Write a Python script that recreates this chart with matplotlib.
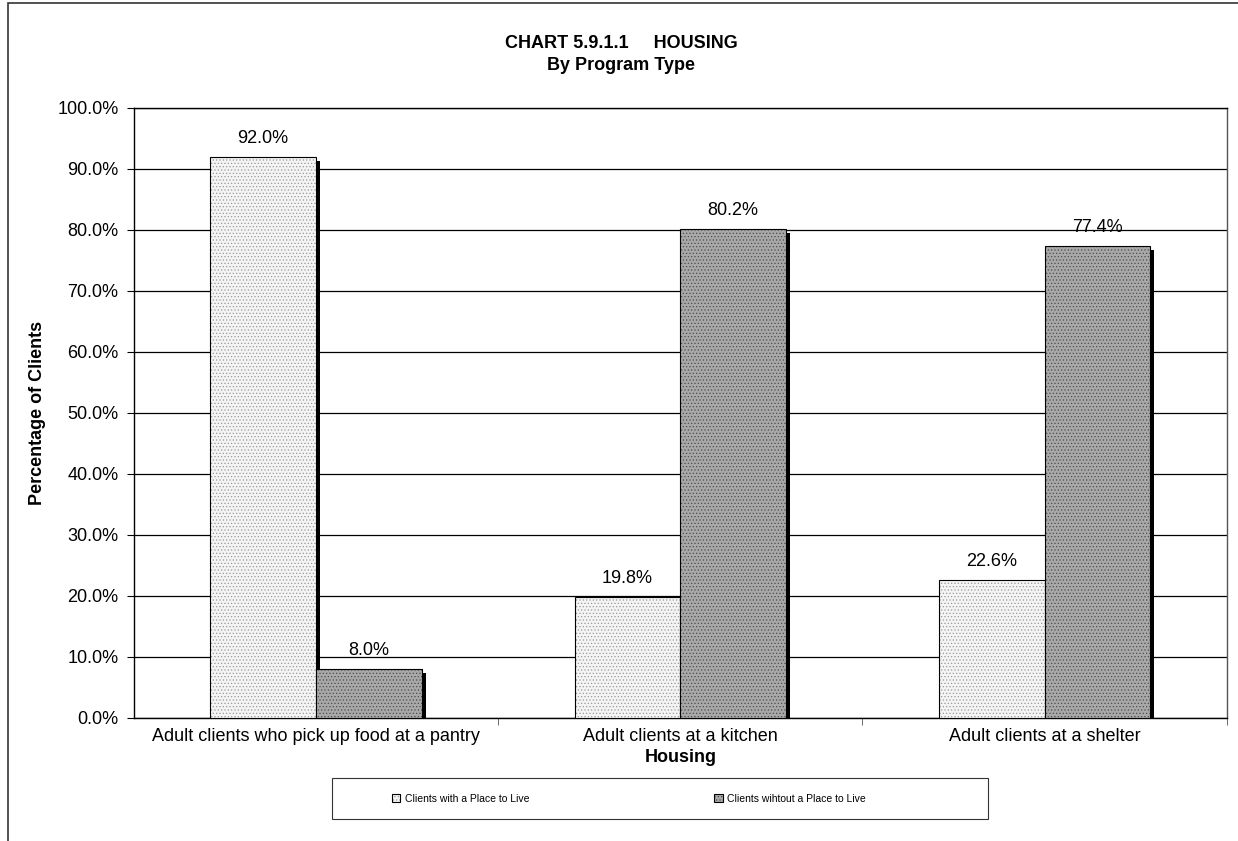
import matplotlib.pyplot as plt
import matplotlib.transforms as mtransforms
import numpy as np
from matplotlib.patches import Rectangle

categories = ['Adult clients who pick up food at a pantry', 'Adult clients at a kitchen', 'Adult clients at a shelter']
with_place = [92.0, 19.8, 22.6]
without_place = [8.0, 80.2, 77.4]
series_names = ['Clients with a Place to Live', 'Clients wihtout a Place to Live']

plt.rcParams['font.family'] = ['Liberation Sans', 'DejaVu Sans']
plt.rcParams['hatch.linewidth'] = 0.5

fig = plt.figure(figsize=(12.38, 8.41), dpi=100)
ax = fig.add_axes([0.108, 0.1463, 0.883, 0.7253])

# figure frame (only left/top visible in the reference)
fig.patches.append(Rectangle((8 / 1238, -0.1), 1.2, 1.1 - 3 / 841, transform=fig.transFigure,
                             fill=False, edgecolor='#333333', linewidth=1.2))

x = np.arange(len(categories))
w = 0.29

b1 = ax.bar(x - w / 2, with_place, w, color='#f4f4f4', edgecolor='black', linewidth=0.8,
            hatch='.....', label=series_names[0], zorder=3)
b2 = ax.bar(x + w / 2, without_place, w, color='#a8a8a8', edgecolor='black', linewidth=0.8,
            hatch='.....', label=series_names[1], zorder=3)
for b in b1:
    b._hatch_color = (0.6, 0.6, 0.6, 1.0)
for b in b2:
    b._hatch_color = (0.3, 0.3, 0.3, 1.0)

# black drop shadow behind each bar
shift = ax.transData + mtransforms.ScaledTranslation(4 / 100, -4 / 100, fig.dpi_scale_trans)
for b in list(b1) + list(b2):
    ax.add_patch(Rectangle((b.get_x(), 0), b.get_width(), b.get_height(), facecolor='black',
                           edgecolor='none', transform=shift, zorder=2.5, clip_on=True))

for bars, vals in [(b1, with_place), (b2, without_place)]:
    for b, v in zip(bars, vals):
        ax.text(b.get_x() + b.get_width() / 2, v + 1.6, f'{v:.1f}%', ha='center', va='bottom', fontsize=13, zorder=5)

ax.set_xlim(-0.5, 2.5)
ax.set_ylim(0, 100)
ax.set_yticks(np.arange(0, 101, 10))
ax.set_yticklabels([f'{t:.1f}%' for t in np.arange(0, 101, 10)], fontsize=13)
ax.yaxis.grid(True, color='black', linewidth=0.9, zorder=0)
ax.set_axisbelow(True)
ax.tick_params(axis='y', length=5, direction='out', color='black', pad=6)

ax.set_xticks(x)
ax.set_xticklabels(categories, fontsize=13)
ax.tick_params(axis='x', length=0, pad=7)
ax.set_xticks([0.5, 1.5, 2.5], minor=True)
ax.tick_params(axis='x', which='minor', length=5, direction='out', color='#555555')

for s in ax.spines.values():
    s.set_color('black')
    s.set_linewidth(1.0)
ax.spines['right'].set_color('#555555')

ax.set_ylabel('Percentage of Clients', fontsize=13, fontweight='bold', labelpad=8)
ax.set_xlabel('Housing', fontsize=13, fontweight='bold', labelpad=3)

fig.text(0.502, 1 - 44 / 841, 'CHART 5.9.1.1     HOUSING', ha='center', va='center', fontsize=13, fontweight='bold')
fig.text(0.502, 1 - 66 / 841, 'By Program Type', ha='center', va='center', fontsize=13, fontweight='bold')

# legend box drawn separately, entries placed inside
fig.patches.append(Rectangle((332 / 1238, 1 - 819 / 841), (988 - 332) / 1238, 41 / 841,
                             transform=fig.transFigure, facecolor='white', edgecolor='#333333',
                             linewidth=0.8, zorder=1))
leg = fig.legend(handles=[b1, b2], labels=series_names, loc='center left',
                 bbox_to_anchor=(392 / 1238, 1 - 798.5 / 841), ncol=2, fontsize=7.5,
                 frameon=False, handlelength=0.8, handleheight=0.8, handletextpad=0.4,
                 columnspacing=17.8, borderpad=0, borderaxespad=0)
leg.set_zorder(2)

fig.savefig('out.png', dpi=100)
